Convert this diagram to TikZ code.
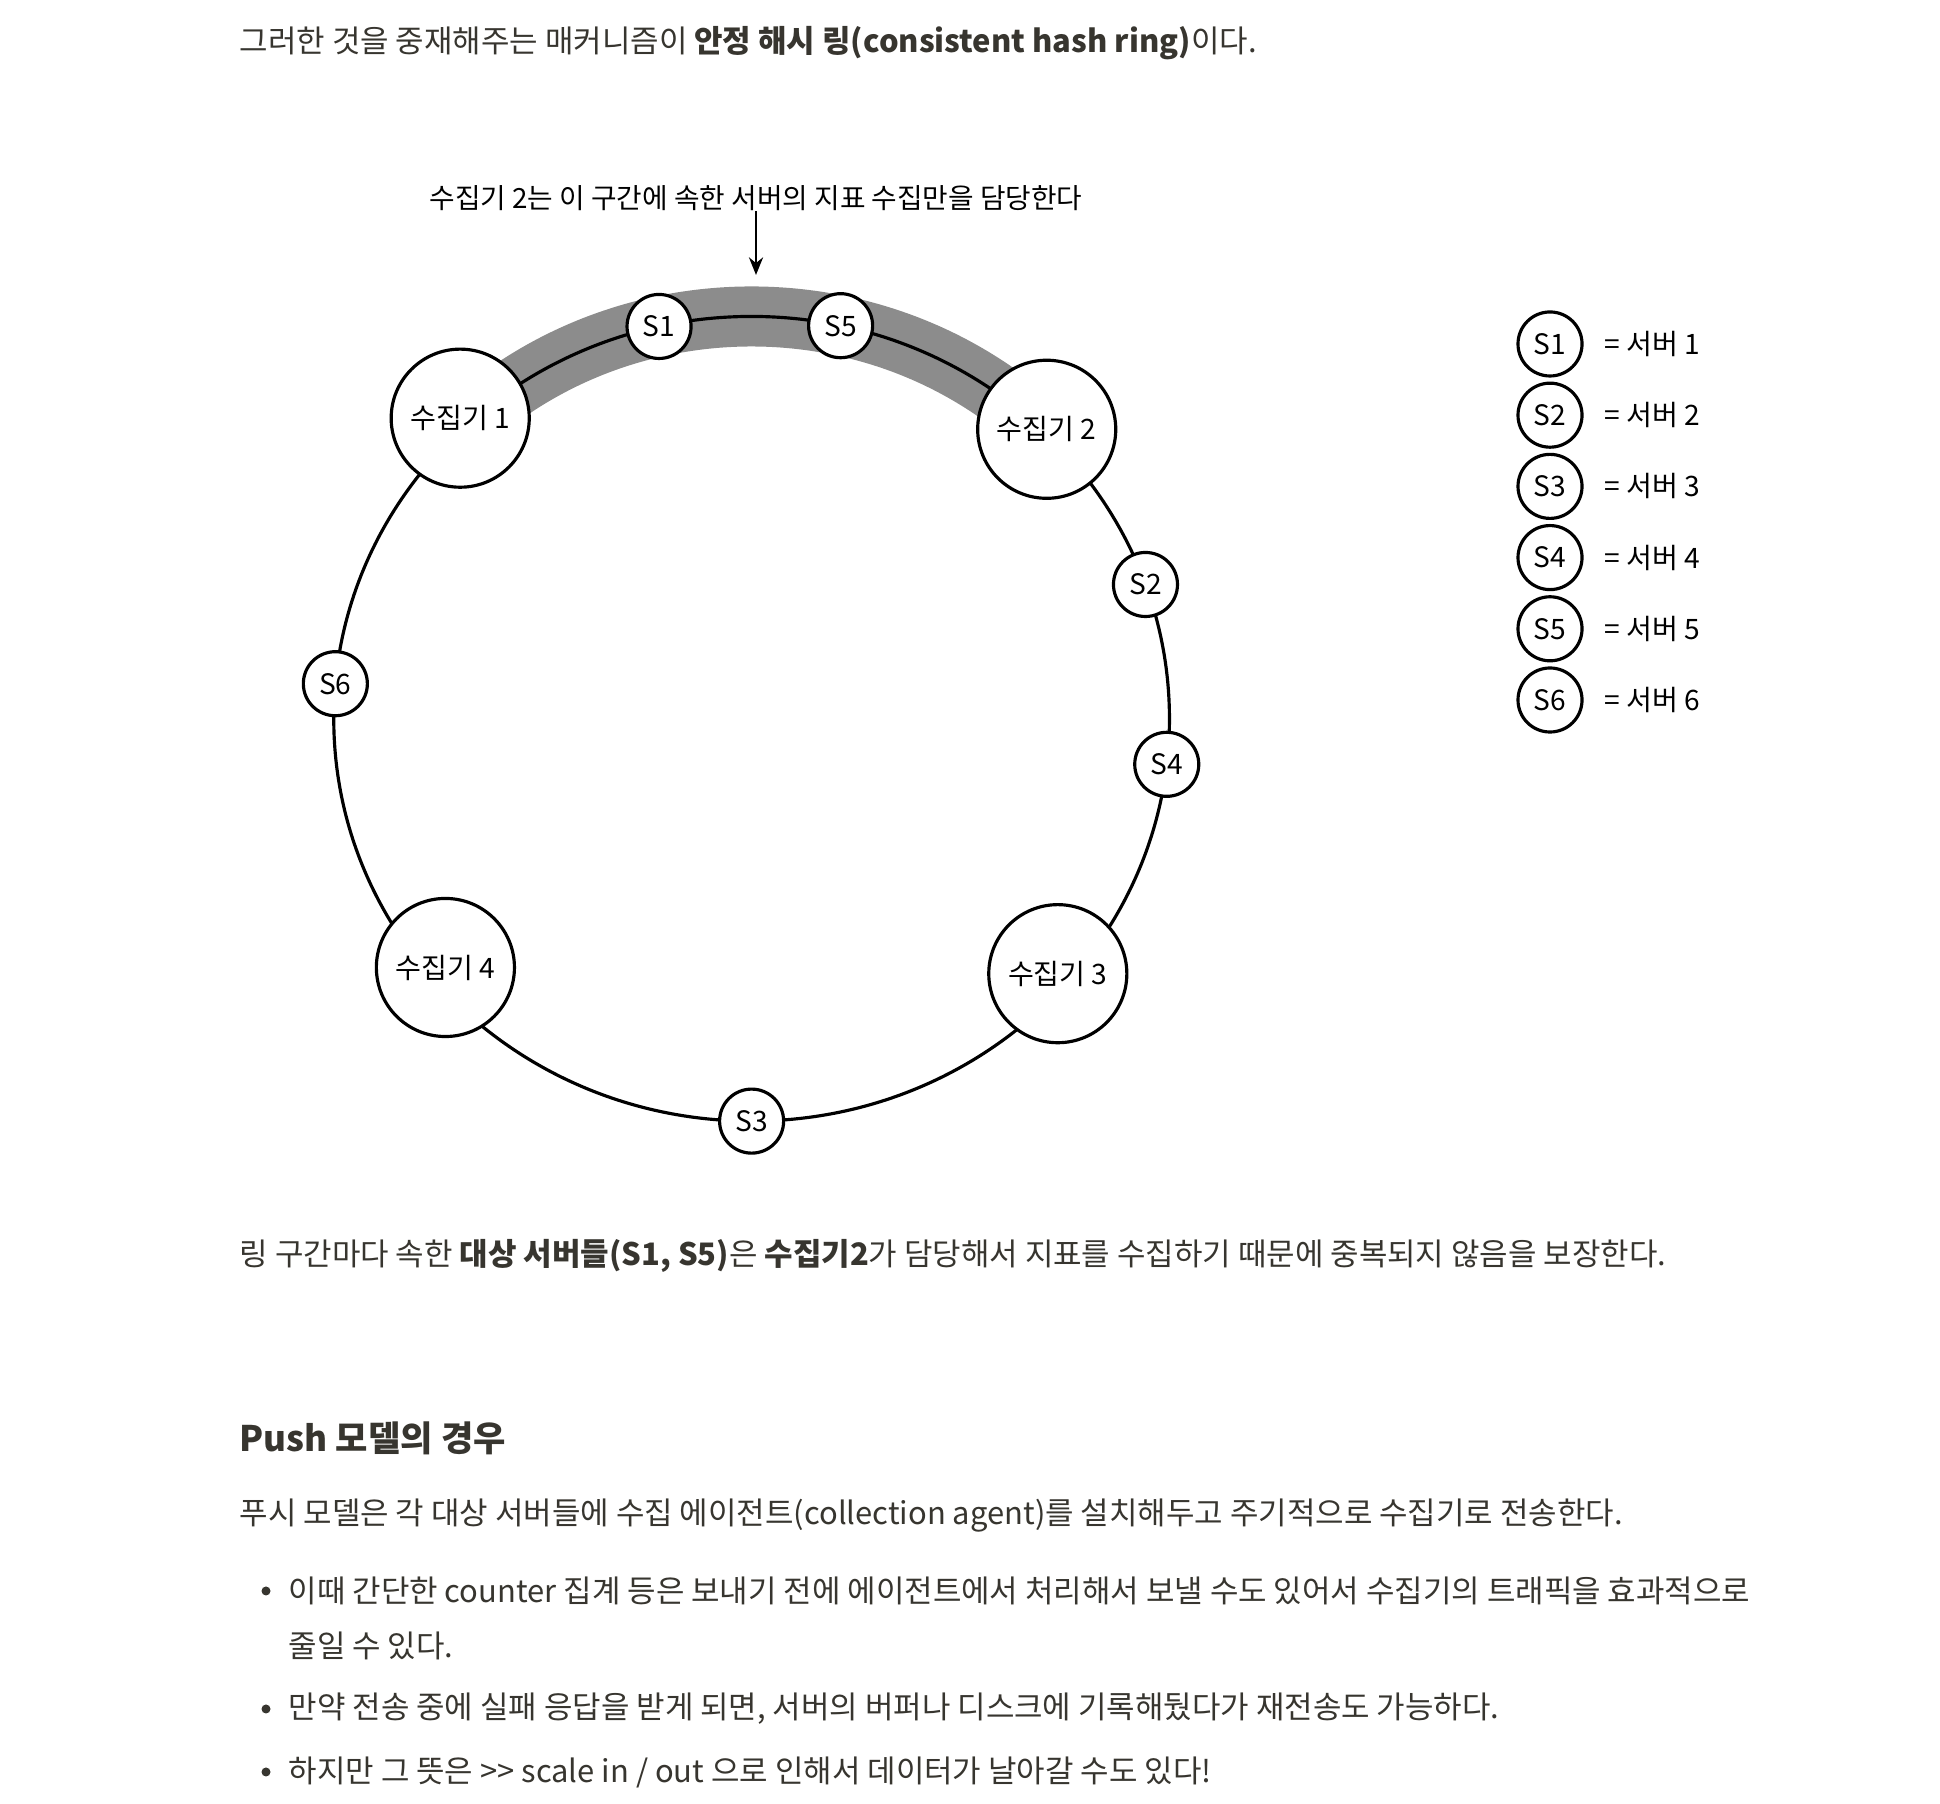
\documentclass[tikz,border=0pt]{standalone}
\usepackage{fontspec}
\setmainfont{Noto Sans CJK KR}
\usetikzlibrary{positioning,arrows.meta}
\definecolor{ink}{RGB}{55,53,47}
\definecolor{bandgray}{RGB}{140,140,140}

\begin{document}
\begin{tikzpicture}[
  x=0.01cm, y=0.01cm,
  coll/.style={draw, circle, fill=white, line width=0.9pt, minimum size=1.38cm, inner sep=0pt, font=\fontsize{8}{10}\selectfont},
  srv/.style={draw, circle, fill=white, line width=0.9pt, minimum size=0.64cm, inner sep=0pt, font=\fontsize{8}{10}\selectfont},
  key/.style={inner sep=0pt, font=\fontsize{8}{10}\selectfont},
  para/.style={anchor=west, inner sep=0pt, text=ink, font=\fontsize{8.8}{11}\selectfont},
  dot/.style={circle, fill=ink, inner sep=0pt, minimum size=0.09cm},
  ring/.style={line width=0.9pt},
  band/.style={line width=0.6cm, draw=bandgray},
  pointer/.style={-{Stealth[length=5pt, width=4pt]}, line width=0.8pt}
]
\useasboundingbox[fill=white] (0,0) rectangle (1940,1804);

% page text above the figure
\node[para] (intro) at (239,1761) {그러한 것을 중재해주는 매커니즘이 \textbf{안정 해시 링(consistent hash ring)}이다.};

% the ring
\coordinate (hub) at (751.6,1085.2);
\draw[band] (hub) ++(133:4.176cm and 4.021cm) arc[start angle=133, end angle=45.5, x radius=4.176cm, y radius=4.021cm];
\draw[ring] (hub) ellipse[x radius=4.176cm, y radius=4.021cm];

\node[coll] (c1) at (460.2,1385.8) {수집기 1};
\node[coll] (c2) at (1046.7,1374.7) {수집기 2};
\node[coll] (c3) at (1057.8,830.3) {수집기 3};
\node[coll] (c4) at (445.4,836.5) {수집기 4};

\path (hub) ++(102.8:4.176cm and 4.021cm) node[srv] (s1) {S1};
\path (hub) ++(19.5:4.176cm and 4.021cm) node[srv] (s2) {S2};
\path (hub) ++(-90:4.176cm and 4.021cm) node[srv] (s3) {S3};
\path (hub) ++(-6.5:4.176cm and 4.021cm) node[srv] (s4) {S4};
\path (hub) ++(77.7:4.176cm and 4.021cm) node[srv] (s5) {S5};
\path (hub) ++(175:4.176cm and 4.021cm) node[srv] (s6) {S6};

% note on the shaded section
\node[key, font=\fontsize{7.9}{10}\selectfont] (note) at (756,1606) {수집기 2는 이 구간에 속한 서버의 지표 수집만을 담당한다};
\coordinate (aim) at (756,1529);
\draw[pointer] (note.south) -- (aim);

% legend
\node[srv] (l1) at (1550,1460) {S1};
\node[srv, below=0.04cm of l1] (l2) {S2};
\node[srv, below=0.04cm of l2] (l3) {S3};
\node[srv, below=0.04cm of l3] (l4) {S4};
\node[srv, below=0.04cm of l4] (l5) {S5};
\node[srv, below=0.04cm of l5] (l6) {S6};
\node[key, right=0.2cm of l1] (k1) {= 서버 1};
\node[key, right=0.2cm of l2] (k2) {= 서버 2};
\node[key, right=0.2cm of l3] (k3) {= 서버 3};
\node[key, right=0.2cm of l4] (k4) {= 서버 4};
\node[key, right=0.2cm of l5] (k5) {= 서버 5};
\node[key, right=0.2cm of l6] (k6) {= 서버 6};

% page text below the figure
\node[para] (after) at (239,548) {링 구간마다 속한 \textbf{대상 서버들(S1, S5)}은 \textbf{수집기2}가 담당해서 지표를 수집하기 때문에 중복되지 않음을 보장한다.};
\node[para, font=\fontsize{10}{12}\bfseries] (head) at (239,366) {Push 모델의 경우};
\node[para] (push) at (239,288) {푸시 모델은 각 대상 서버들에 수집 에이전트(collection agent)를 설치해두고 주기적으로 수집기로 전송한다.};

\node[dot] (d1) at (266,213) {};
\node[para] (b1) at (288,213) {이때 간단한 counter 집계 등은 보내기 전에 에이전트에서 처리해서 보낼 수도 있어서 수집기의 트래픽을 효과적으로};
\node[para] (b1b) at (288,158) {줄일 수 있다.};
\node[dot] (d2) at (266,95) {};
\node[para] (b2) at (288,95) {만약 전송 중에 실패 응답을 받게 되면, 서버의 버퍼나 디스크에 기록해뒀다가 재전송도 가능하다.};
\node[dot] (d3) at (266,32) {};
\node[para] (b3) at (288,32) {하지만 그 뜻은 >\kern0pt> scale in / out 으로 인해서 데이터가 날아갈 수도 있다!};
\end{tikzpicture}
\end{document}
